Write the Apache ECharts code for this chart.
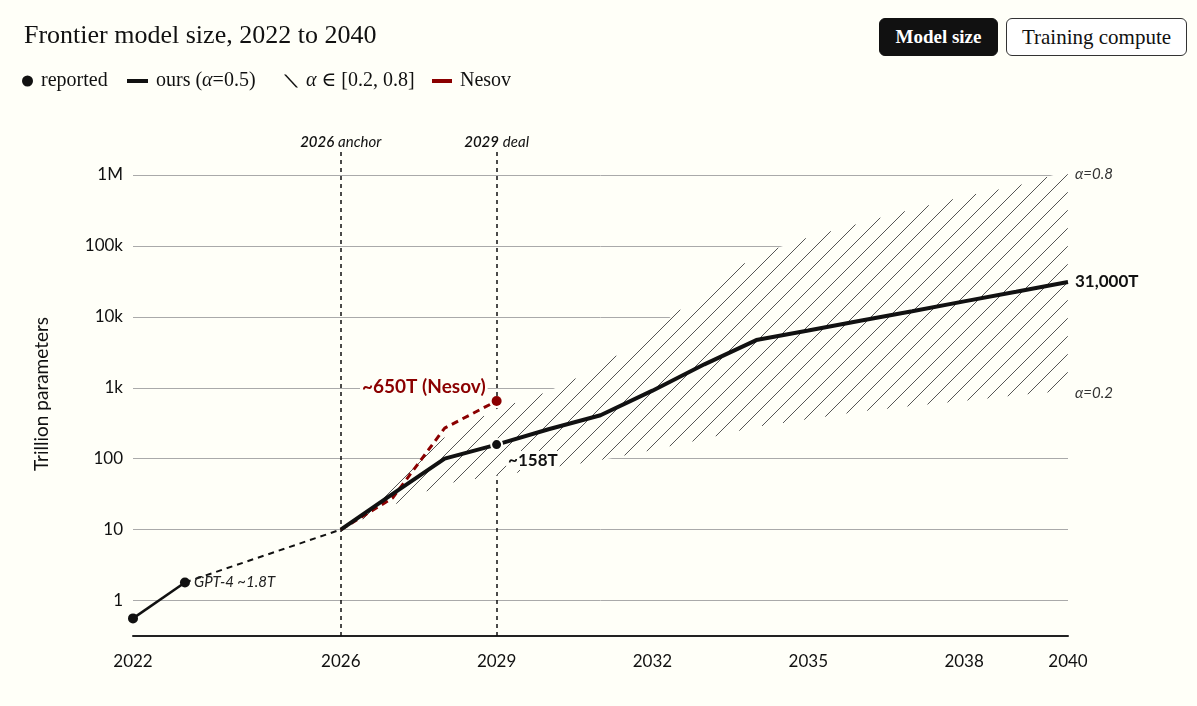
<!DOCTYPE html>
<html lang="en">
<head>
<meta charset="UTF-8">
<title>Frontier model size</title>
<script src="https://cdn.jsdelivr.net/npm/echarts@6/dist/echarts.min.js"></script>
<style>
    body { margin: 0; background: #fffff8; }
    #wrap { position: relative; width: 1197px; height: 706px; }
    #chartmain { width: 1197px; height: 706px; }
    .btn { position: absolute; top: 18px; height: 38px; box-sizing: border-box; border-radius: 6px;
           font-family: "Liberation Serif", serif; font-size: 21px; line-height: 36px; text-align: center; }
    #b1 { left: 879px; width: 119px; background: #111; color: #fff; border: 1px solid #111; font-weight: bold; font-size: 19px; }
    #b2 { left: 1006px; width: 181px; background: #fff; color: #111; border: 1px solid #333; }
</style>
</head>
<body>
<div id="wrap">
    <div id="chartmain"></div>
    <div class="btn" id="b1">Model size</div>
    <div class="btn" id="b2">Training compute</div>
</div>
<script>
    // reported points
    var reportedYears = [2022, 2023];
    var reported = [0.56, 1.8];
    var reportedNames = ['', 'GPT-4'];

    // our projection (alpha = 0.5), trillion params
    var years = [2026, 2027, 2028, 2029, 2030, 2031, 2032, 2033, 2034, 2035, 2036, 2037, 2038, 2039, 2040];
    var ours  = [10, 32, 100, 158, 260, 410, 910, 2140, 4700, 6400, 8800, 12000, 16500, 22600, 31000];
    // alpha range band
    var lower = [10, 22, 44, 58, 72, 95, 132, 190, 280, 360, 460, 550, 650, 780, 910];
    var upper = [10, 40, 200, 500, 890, 2000, 6300, 23000, 74000, 132000, 210000, 330000, 500000, 700000, 1150000];

    // Nesov estimate
    var nesovYears = [2026, 2027, 2028, 2029];
    var nesov = [10, 28, 270, 650];

    var xTicks = [2022, 2026, 2029, 2032, 2035, 2038, 2040];
    var yTickText = ['1', '10', '100', '1k', '10k', '100k', '1M'];

    var SANS = 'Lato, "Noto Sans", sans-serif';
    var SERIF = '"Liberation Serif", "DejaVu Serif", serif';
    var BG = '#fffff8';
    var RED = '#8b0000';
    var HATCH = 18;   // spacing of the hatch lines, px

    var reportedData = reportedYears.map(function (y, i) {
        var d = { value: [y, reported[i]] };
        if (reportedNames[i]) {
            d.label = { show: true, position: 'right', distance: 4, formatter: reportedNames[i] + ' ~' + reported[i] + 'T',
                fontFamily: SANS, fontStyle: 'italic', fontSize: 15, color: '#222' };
        }
        return d;
    });

    var oursData = years.map(function (y, i) {
        if (y === 2029) {
            return { value: [y, ours[i]], symbol: 'circle', symbolSize: 11,
                itemStyle: { color: '#111', borderColor: BG, borderWidth: 2 },
                label: { show: true, position: 'right', distance: 3, offset: [0, 16],
                    formatter: '~' + ours[i] + 'T', fontFamily: SANS, fontWeight: 'bold', fontSize: 17, color: '#111',
                    backgroundColor: BG, padding: [1, 2] } };
        }
        return [y, ours[i]];
    });

    var nesovData = nesovYears.map(function (y, i) {
        if (i === nesovYears.length - 1) {
            return { value: [y, nesov[i]], symbol: 'circle', symbolSize: 10,
                itemStyle: { color: RED },
                label: { show: true, position: 'left', distance: 4, offset: [0, -14],
                    formatter: '~' + nesov[i] + 'T (Nesov)', fontFamily: SANS, fontWeight: 'bold', fontSize: 19, color: RED,
                    backgroundColor: BG, padding: [0, 2] } };
        }
        return [y, nesov[i]];
    });

    var bandData = years.map(function (y, i) { return [y, lower[i], upper[i]]; });

    function interp(pts, x) {
        for (var i = 1; i < pts.length; i++) {
            if (x <= pts[i][0]) {
                var a = pts[i - 1], b = pts[i];
                var t = (x - a[0]) / (b[0] - a[0] || 1);
                return a[1] + t * (b[1] - a[1]);
            }
        }
        return pts[pts.length - 1][1];
    }

    function bandItem(params, api) {
        if (params.dataIndex !== 0) return null;
        var n = params.dataInsideLength;
        var top = [], bot = [];
        for (var i = 0; i < n; i++) {
            top.push(api.coord([api.value(0, i), api.value(2, i)]));
            bot.push(api.coord([api.value(0, i), api.value(1, i)]));
        }
        var children = [
            { type: 'polygon', shape: { points: top.concat(bot.slice().reverse()) },
              style: { fill: BG, stroke: null } }
        ];
        // 45 degree hatch lines (screen y = c - x), clipped to the band
        var x0 = top[0][0], x1 = top[n - 1][0];
        var cMin = x0 + Math.min.apply(null, top.map(function (p) { return p[1]; }));
        var cMax = x1 + Math.max.apply(null, bot.map(function (p) { return p[1]; }));
        var c0 = Math.floor(cMin / HATCH) * HATCH;
        for (var cc = c0; cc <= cMax; cc += HATCH) {
            var start = null, last = null;
            for (var x = x0; x <= x1 + 0.001; x += 0.25) {
                var y = cc - x;
                var inside = y >= interp(top, x) && y <= interp(bot, x);
                if (inside) {
                    if (start === null) start = x;
                    last = x;
                }
                if ((!inside || x + 0.25 > x1 + 0.001) && start !== null) {
                    if (last - start > 0.5) {
                        children.push({ type: 'line', shape: { x1: start, y1: cc - start, x2: last, y2: cc - last },
                            style: { stroke: '#555', lineWidth: 1 } });
                    }
                    start = null;
                }
            }
        }
        var hi = top[n - 1], lo = bot[n - 1];
        children.push({ type: 'text', x: hi[0] + 7, y: hi[1] + 3,
            style: { text: 'α=0.8', font: 'italic 15px ' + SANS, fill: '#333', align: 'left', verticalAlign: 'middle' } });
        children.push({ type: 'text', x: lo[0] + 7, y: lo[1] + 2,
            style: { text: 'α=0.2', font: 'italic 15px ' + SANS, fill: '#333', align: 'left', verticalAlign: 'middle' } });
        return { type: 'group', children: children };
    }

    function legendBox(name, left, icon, w, h, color) {
        return {
            left: left, top: 71, padding: 0, itemWidth: w, itemHeight: h, selectedMode: false,
            data: [{ name: name, icon: icon, itemStyle: { color: color, borderWidth: 0 } }],
            formatter: function (n) { return n.replace('α', '{i|α}'); },
            textStyle: { fontFamily: SERIF, fontSize: 20, color: '#111', padding: [0, 0, 0, 3],
                rich: { i: { fontFamily: SERIF, fontSize: 20, fontStyle: 'italic', color: '#111' } } }
        };
    }

    var option = {
        backgroundColor: BG,
        animation: false,
        title: {
            text: 'Frontier model size, 2022 to 2040',
            left: 19, top: 18,
            textStyle: { fontFamily: SERIF, fontSize: 26, fontWeight: 'normal', color: '#111' }
        },
        legend: [
            legendBox('reported', 22, 'circle', 11, 11, '#111'),
            legendBox('ours (α=0.5)', 127, 'path://M0,0H21V4H0Z', 21, 4, '#111'),
            legendBox('α ∈ [0.2, 0.8]', 284, 'path://M0,0L2,0L14,13L12,13Z', 14, 13, '#111'),
            legendBox('Nesov', 432, 'path://M0,0H20V4H0Z', 20, 4, RED)
        ],
        grid: { left: 133, right: 129, top: 152, bottom: 70, outerBoundsMode: 'none' },
        xAxis: {
            type: 'value', min: 2022, max: 2040,
            axisLine: { show: true, lineStyle: { color: '#222', width: 2 } },
            axisTick: { show: false },
            splitLine: { show: false },
            axisLabel: { customValues: xTicks, margin: 17, fontFamily: SANS, fontSize: 17, color: '#111',
                formatter: function (v) { return String(v); } }
        },
        yAxis: {
            type: 'log', logBase: 10, min: Math.pow(10, -0.5), max: Math.pow(10, 6.324),
            name: 'Trillion parameters', nameLocation: 'middle', nameGap: 82,
            nameTextStyle: { fontFamily: SANS, fontSize: 19, color: '#111' },
            axisLine: { show: false },
            axisTick: { show: false },
            splitLine: { show: true, showMinLine: false, showMaxLine: false, lineStyle: { color: '#aaa', width: 1 } },
            axisLabel: { showMinLabel: false, showMaxLabel: false, margin: 10, fontFamily: SANS, fontSize: 17, color: '#111',
                formatter: function (v) {
                    var e = Math.round(Math.log10(v));
                    return yTickText[e] || '';
                } }
        },
        series: [
            {
                name: 'connector', type: 'line', z: 2, silent: true,
                data: [[reportedYears[1], reported[1]], [years[0], ours[0]]],
                symbol: 'none',
                lineStyle: { color: '#111', width: 2, type: [6, 5] },
                markLine: {
                    z: 1, silent: true, symbol: ['none', 'none'],
                    lineStyle: { color: '#111', width: 1.5, type: [4, 4] },
                    label: { show: true, position: 'end', distance: 2, color: '#111', fontFamily: SANS, fontSize: 15,
                        rich: {
                            y: { fontFamily: SANS, fontSize: 15, fontStyle: 'italic', fontWeight: 600, color: '#111' },
                            w: { fontFamily: SANS, fontSize: 15, fontStyle: 'italic', color: '#111' }
                        } },
                    data: [
                        { xAxis: 2026, label: { formatter: '{y|2026} {w|anchor}' } },
                        { xAxis: 2029, label: { formatter: '{y|2029} {w|deal}' } }
                    ]
                }
            },
            {
                name: 'α ∈ [0.2, 0.8]', type: 'custom', z: 3, silent: true,
                data: bandData,
                encode: { x: 0, y: [1, 2] },
                itemStyle: { color: '#111' },
                renderItem: bandItem
            },
            {
                name: 'reported', type: 'line', z: 6, silent: true,
                data: reportedData,
                symbol: 'circle', symbolSize: 10, showSymbol: true,
                itemStyle: { color: '#111' },
                lineStyle: { color: '#111', width: 2.5 }
            },
            {
                name: 'Nesov', type: 'line', z: 4, silent: true,
                data: nesovData,
                symbol: 'none', showSymbol: true,
                itemStyle: { color: RED },
                lineStyle: { color: RED, width: 3, type: [7, 5] }
            },
            {
                name: 'ours (α=0.5)', type: 'line', z: 5, silent: true,
                data: oursData,
                symbol: 'none', showSymbol: true,
                itemStyle: { color: '#111' },
                lineStyle: { color: '#111', width: 4 },
                endLabel: { show: true, distance: 7, fontFamily: SANS, fontWeight: 'bold', fontSize: 17, color: '#111',
                    formatter: function (p) { return p.value[1].toLocaleString('en-US') + 'T'; } }
            }
        ]
    };

    var myChart = echarts.init(document.getElementById('chartmain'));
    myChart.setOption(option);
</script>
</body>
</html>
